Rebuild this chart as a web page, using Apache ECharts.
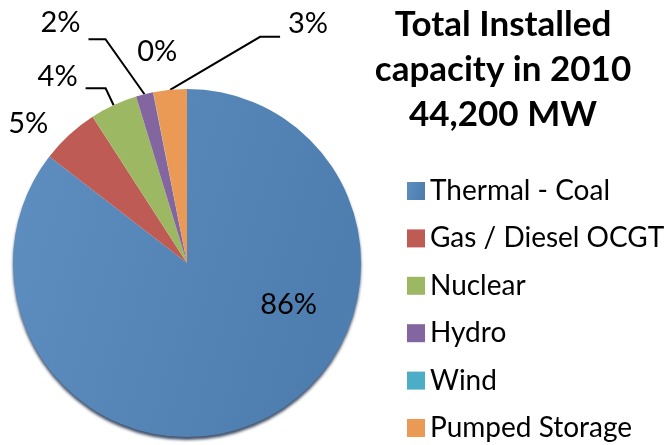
<!DOCTYPE html>
<html>
<head>
<meta charset="utf-8">
<title>Installed capacity 2010</title>
<script src="https://cdn.jsdelivr.net/npm/echarts@6/dist/echarts.min.js"></script>
<style>
html, body { margin: 0; padding: 0; background: #fff; }
#chart { width: 670px; height: 445px; }
</style>
</head>
<body>
<div id="chart"></div>
<script>
// slice names (legend order)
var categories = ['Thermal - Coal', 'Gas / Diesel OCGT', 'Nuclear', 'Hydro', 'Wind', 'Pumped Storage'];
// share of installed capacity, %
var shares = [85.5, 5.4, 4.4, 1.6, 0.03, 3.1];
// title lines
var titleLines = ['Total Installed', 'capacity in 2010', '44,200 MW'];

var colors = ['#5584B7', '#BE5B55', '#9CB862', '#8366A0', '#4BADC6', '#EB9A55'];
var fontName = 'Lato, "Liberation Sans", sans-serif';

// where each label sits, relative to the edge point of its slice
// ex/ey: leader elbow, run: horizontal part, lx/ly: label centre from line end
var labelPlaces = [
    {lx: 62, ly: -39},                              // coal (inside)
    {ex: 0, ey: 0, run: 0, lx: -41, ly: -11},       // gas
    {ex: -8, ey: -17, run: -20, lx: -28, ly: -12},  // nuclear
    {ex: -39, ey: -55, run: -17, lx: -28, ly: -17}, // hydro
    {ex: 0, ey: 0, run: 0, lx: 4, ly: -41},         // wind
    {ex: 90, ey: -53, run: 20, lx: 28, ly: -13}     // pumped storage
];
// slices whose leader line is drawn
var withLine = [false, false, true, true, false, true];

// build pie data from the arrays
function buildData() {
    var data = [];
    categories.forEach(function (name, i) {
        var item = {
            name: name,
            value: shares[i],
            itemStyle: {color: colors[i]},
            labelLine: {lineStyle: {opacity: withLine[i] ? 1 : 0}}
        };
        if (i === 0) {
            item.label = {position: 'inside'};
            item.itemStyle = {
                color: {
                    type: 'linear', x: 0, y: 0, x2: 1, y2: 0.3,
                    colorStops: [{offset: 0, color: '#5F8EC0'}, {offset: 1, color: '#4E7DAF'}]
                },
                shadowColor: 'rgba(20,40,70,0.8)',
                shadowBlur: 3,
                shadowOffsetY: 3
            };
        }
        data.push(item);
    });
    return data;
}

// move labels and leader lines like the original
function placeLabel(params) {
    var p = labelPlaces[params.dataIndex];
    var pts = params.labelLinePoints;
    if (!pts) {
        var r = params.labelRect;
        return {
            x: r.x + r.width / 2 + p.lx,
            y: r.y + r.height / 2 + p.ly,
            align: 'center',
            verticalAlign: 'middle'
        };
    }
    var p0 = pts[0];
    var elbow = [p0[0] + p.ex, p0[1] + p.ey];
    var end = [elbow[0] + p.run, elbow[1]];
    return {
        x: end[0] + p.lx,
        y: end[1] + p.ly,
        align: 'center',
        verticalAlign: 'middle',
        labelLinePoints: [p0, elbow, end]
    };
}

var chart = echarts.init(document.getElementById('chart'), null, {renderer: 'canvas'});
chart.setOption({
    animation: false,
    title: {
        text: titleLines.join('\n'),
        left: 503,
        top: 2,
        padding: 0,
        textAlign: 'center',
        textStyle: {
            fontFamily: fontName,
            fontSize: 35,
            fontWeight: 'bold',
            lineHeight: 45,
            color: '#000'
        }
    },
    legend: {
        orient: 'vertical',
        left: 407,
        top: 177,
        height: 320,
        padding: 0,
        icon: 'rect',
        itemWidth: 18,
        itemHeight: 18,
        itemGap: 19.4,
        selectedMode: false,
        data: categories,
        textStyle: {
            fontFamily: fontName,
            fontSize: 28,
            lineHeight: 28,
            color: '#000'
        }
    },
    series: [{
        type: 'pie',
        center: [187, 263],
        radius: 174,
        startAngle: 90,
        clockwise: true,
        avoidLabelOverlap: false,
        data: buildData(),
        label: {
            show: true,
            position: 'outside',
            fontFamily: fontName,
            fontSize: 29,
            color: '#000',
            formatter: function (p) {
                return Math.round(p.value) + '%';
            }
        },
        labelLine: {
            show: true,
            length: 10,
            length2: 10,
            lineStyle: {color: '#000', width: 2}
        },
        labelLayout: placeLabel,
        emphasis: {disabled: true}
    }]
});
</script>
</body>
</html>
